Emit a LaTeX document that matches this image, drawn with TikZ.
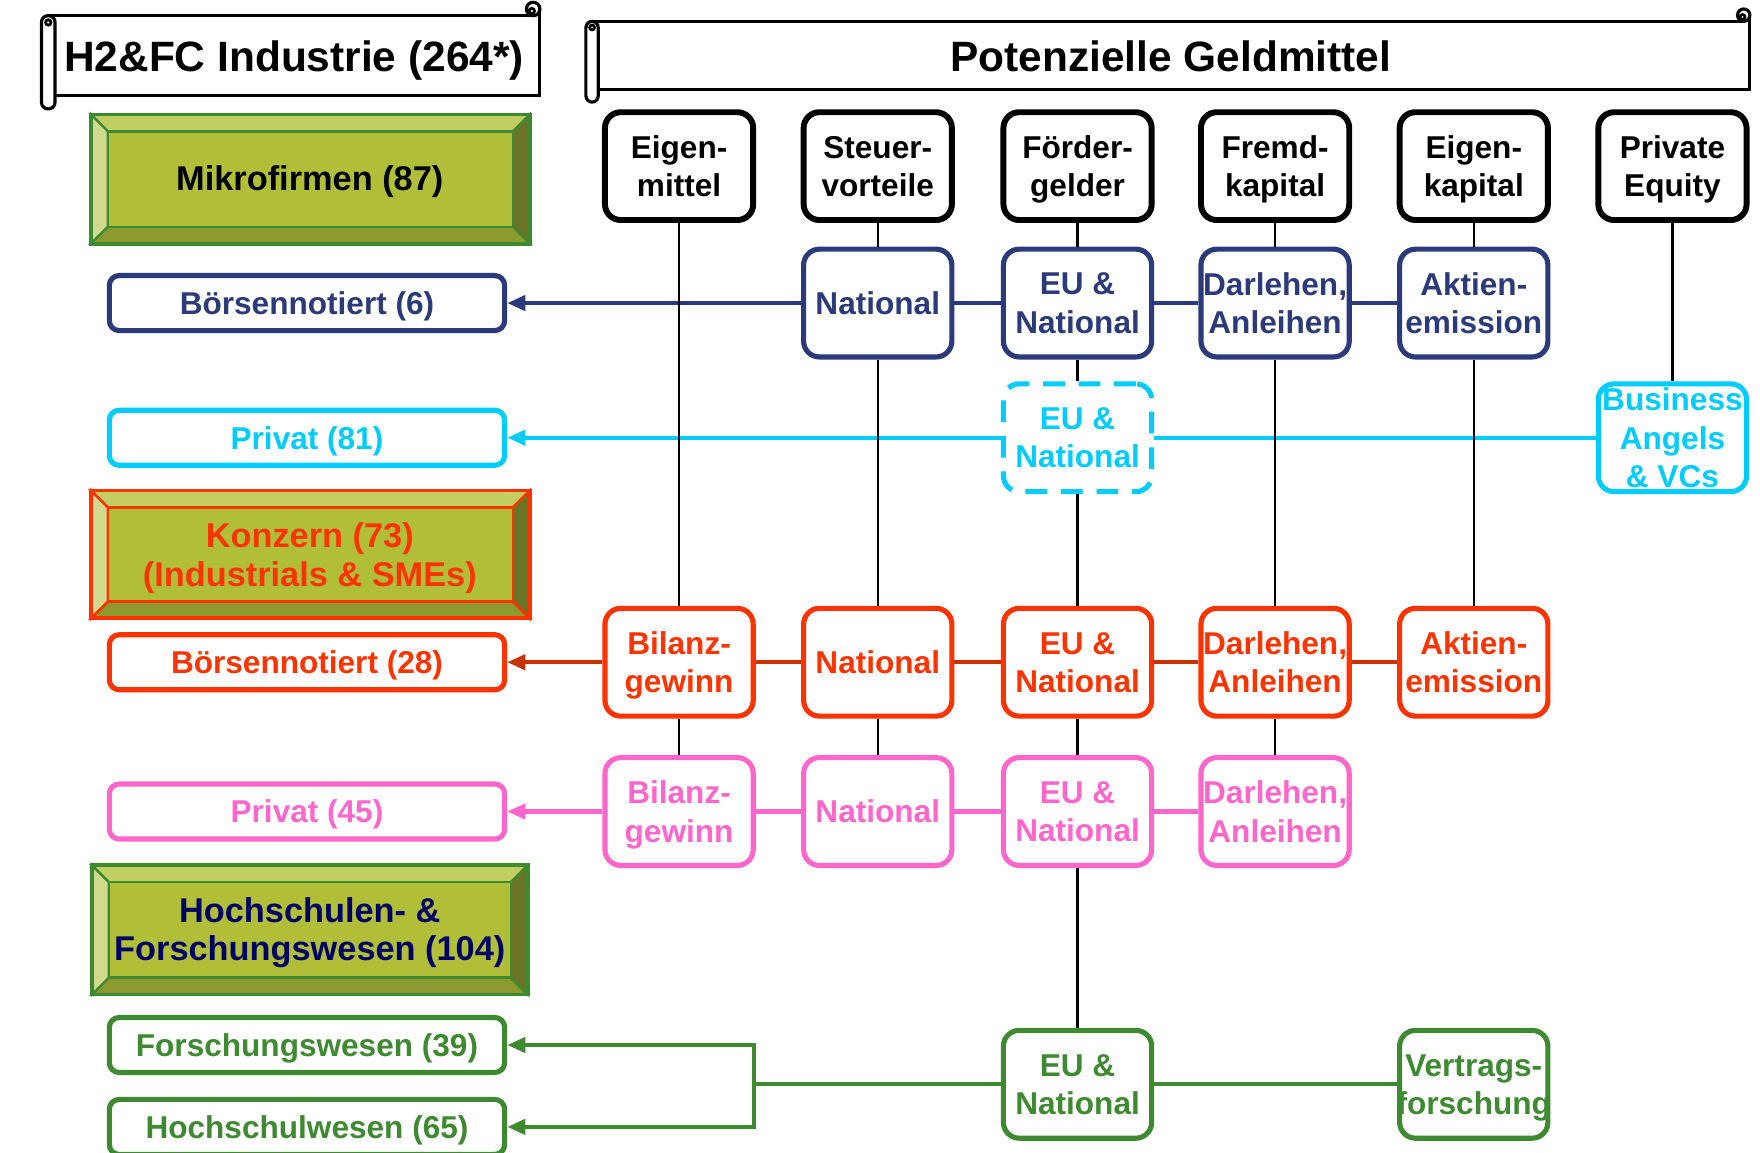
\documentclass[tikz,border=0pt]{standalone}
\usepackage{fontspec}
\setmainfont{Liberation Sans}
\usetikzlibrary{arrows.meta,positioning}

\definecolor{boerse}{HTML}{2B3A7A}
\definecolor{privat}{HTML}{00CCFF}
\definecolor{konzern}{HTML}{FF3300}
\definecolor{konzernline}{HTML}{C83200}
\definecolor{privatpink}{HTML}{FF66CC}
\definecolor{forschung}{HTML}{3D8A30}
\definecolor{deepnavy}{HTML}{000066}
\definecolor{bevelface}{HTML}{B0BE38}
\definecolor{beveltop}{HTML}{C2CE62}
\definecolor{bevelleft}{HTML}{D1DA8C}
\definecolor{bevelright}{HTML}{6A7426}
\definecolor{bevelbottom}{HTML}{8C9A30}

% scroll banner: left, right, top, bottom, roll size
\newcommand{\scrollbanner}[5]{%
  \filldraw[fill=white, line width=0.8pt] (#1+#5/2,-#3) -- (#2-#5/2,-#3) -- (#2-#5/2,-#3+#5/2) -- (#2,-#3+#5/2) -- (#2,-#4) -- (#1+#5/2,-#4) -- cycle;
  \filldraw[fill=white, line width=0.8pt] (#2-#5/2,-#3+#5/2) circle[radius=#5/2];
  \draw[line width=0.7pt] (#2-#5*0.6,-#3+#5*0.35) circle[radius=#5/5];
  \filldraw[fill=white, line width=0.8pt, rounded corners=1.6pt] (#1,-#3) rectangle (#1+#5,-#4-#5);
  \draw[line width=0.7pt] (#1+#5/2,-#3-#5*0.5) circle[radius=#5/5];
}

% bevelled button: left, top, right, bottom, outline colour
\newcommand{\bevelbutton}[5]{%
  \filldraw[fill=beveltop, draw=#5, line width=0.6pt] (#1,-#2) -- (#3,-#2) -- (#3-15,-#2-15) -- (#1+15,-#2-15) -- cycle;
  \filldraw[fill=bevelbottom, draw=#5, line width=0.6pt] (#1,-#4) -- (#3,-#4) -- (#3-15,-#4+15) -- (#1+15,-#4+15) -- cycle;
  \filldraw[fill=bevelleft, draw=#5, line width=0.6pt] (#1,-#2) -- (#1+15,-#2-15) -- (#1+15,-#4+15) -- (#1,-#4) -- cycle;
  \filldraw[fill=bevelright, draw=#5, line width=0.6pt] (#3,-#2) -- (#3-15,-#2-15) -- (#3-15,-#4+15) -- (#3,-#4) -- cycle;
  \filldraw[fill=bevelface, draw=#5, line width=0.6pt] (#1+15,-#2-15) rectangle (#3-15,-#4+15);
  \draw[draw=#5, line width=1pt] (#1,-#2) rectangle (#3,-#4);
}

\begin{document}
\begin{tikzpicture}[x=0.01cm, y=0.01cm,
  head/.style={draw=black, line width=1.5pt, rounded corners=4pt, fill=white,
    minimum width=1.32cm, minimum height=0.96cm, inner sep=0pt, align=center,
    text depth=0pt, font=\fontsize{8}{9.7}\selectfont\bfseries},
  fund/.style={head, draw=#1, text=#1, line width=1.3pt},
  groupbox/.style={draw=#1, text=#1, line width=1.3pt, rounded corners=2.5pt, fill=white,
    minimum width=3.52cm, minimum height=0.49cm, inner sep=0pt, text depth=0pt,
    font=\fontsize{8}{9.7}\selectfont\bfseries},
  buttontext/.style={align=center, text depth=0pt, font=\fontsize{8.7}{9.7}\selectfont\bfseries},
  bannertext/.style={text depth=0pt, font=\fontsize{10.75}{13}\selectfont\bfseries},
  flowline/.style={draw=#1, line width=1.1pt},
  arrowend/.style={-{Triangle[length=4.6pt, width=3.8pt]}},
  spine/.style={draw=black, line width=0.6pt}]

  \useasboundingbox (0,0) rectangle (1568,-1027);

  % banners
  \scrollbanner{37}{481}{14}{85}{12}
  \scrollbanner{522}{1559}{19}{80}{11}
  \node[bannertext] (industrie) at (262,-50) {H2\&FC Industrie (264*)};
  \node[bannertext] (geldmittel) at (1043,-50) {Potenzielle Geldmittel};

  % firm groups
  \bevelbutton{81}{102}{472}{217}{forschung}
  \node[buttontext] (mikro) at (276,-159) {Mikrofirmen (87)};
  \bevelbutton{81}{437}{472}{551}{konzern}
  \node[buttontext, text=konzern] (konz) at (276,-494) {Konzern (73)\\(Industrials \& SMEs)};
  \bevelbutton{82}{771}{470}{886}{forschung}
  \node[buttontext, text=deepnavy] (hochsch) at (276,-828) {Hochschulen- \&\\Forschungswesen (104)};

  \node[groupbox=boerse] (l1) at (273.5,-270) {Börsennotiert (6)};
  \node[groupbox=privat] (l2) at (273.5,-390) {Privat (81)};
  \node[groupbox=konzern] (l3) at (273.5,-590) {Börsennotiert (28)};
  \node[groupbox=privatpink] (l4) at (273.5,-723) {Privat (45)};
  \node[groupbox=forschung] (l5) at (273.5,-931) {Forschungswesen (39)};
  \node[groupbox=forschung] (l6) at (273.5,-1004) {Hochschulwesen (65)};

  % kinds of funding
  \node[head] (h1) at (605,-148) {Eigen-\\mittel};
  \node[head] (h2) at (782,-148) {Steuer-\\vorteile};
  \node[head] (h3) at (960,-148) {Förder-\\gelder};
  \node[head] (h4) at (1136,-148) {Fremd-\\kapital};
  \node[head] (h5) at (1313,-148) {Eigen-\\kapital};
  \node[head] (h6) at (1490,-148) {Private\\Equity};

  \node[fund=boerse] (n2) at (782,-270) {National};
  \node[fund=boerse] (n3) at (960,-270) {EU \&\\National};
  \node[fund=boerse] (n4) at (1136,-270) {Darlehen,\\Anleihen};
  \node[fund=boerse] (n5) at (1313,-270) {Aktien-\\emission};

  \node[fund=privat, dash pattern=on 5.5pt off 3.5pt] (c3) at (960,-390) {EU \&\\National};
  \node[fund=privat] (c6) at (1490,-390) {Business\\Angels\\\& VCs};

  \node[fund=konzern] (r1) at (605,-590) {Bilanz-\\gewinn};
  \node[fund=konzern] (r2) at (782,-590) {National};
  \node[fund=konzern] (r3) at (960,-590) {EU \&\\National};
  \node[fund=konzern] (r4) at (1136,-590) {Darlehen,\\Anleihen};
  \node[fund=konzern] (r5) at (1313,-590) {Aktien-\\emission};

  \node[fund=privatpink] (p1) at (605,-723) {Bilanz-\\gewinn};
  \node[fund=privatpink] (p2) at (782,-723) {National};
  \node[fund=privatpink] (p3) at (960,-723) {EU \&\\National};
  \node[fund=privatpink] (p4) at (1136,-723) {Darlehen,\\Anleihen};

  \node[fund=forschung] (g3) at (960,-966) {EU \&\\National};
  \node[fund=forschung] (g5) at (1313,-966) {Vertrags-\\\makebox[0pt]{forschung}};
  \coordinate (gfork) at (672,-966);

  % flows to the groups
  \draw[flowline=boerse] (n5) -- (n4) -- (n3) -- (n2);
  \draw[flowline=boerse, arrowend] (n2) -- (l1);
  \draw[flowline=privat] (c6) -- (c3);
  \draw[flowline=privat, arrowend] (c3) -- (l2);
  \draw[flowline=konzernline] (r5) -- (r4) -- (r3) -- (r2) -- (r1);
  \draw[flowline=konzernline, arrowend] (r1) -- (l3);
  \draw[flowline=privatpink] (p4) -- (p3) -- (p2) -- (p1);
  \draw[flowline=privatpink, arrowend] (p1) -- (l4);
  \draw[flowline=forschung] (g5) -- (g3) -- (gfork);
  \draw[flowline=forschung, arrowend] (gfork) |- (l5);
  \draw[flowline=forschung, arrowend] (gfork) |- (l6);

  % columns
  \draw[spine] (h1) -- (r1);
  \draw[spine] (r1) -- (p1);
  \draw[spine] (h2) -- (n2);
  \draw[spine] (n2) -- (r2);
  \draw[spine] (r2) -- (p2);
  \draw[spine] (h3) -- (n3);
  \draw[spine] (n3) -- (c3);
  \draw[spine] (c3) -- (r3);
  \draw[spine] (r3) -- (p3);
  \draw[spine] (p3) -- (g3);
  \draw[spine] (h4) -- (n4);
  \draw[spine] (n4) -- (r4);
  \draw[spine] (r4) -- (p4);
  \draw[spine] (h5) -- (n5);
  \draw[spine] (n5) -- (r5);
  \draw[spine] (h6) -- (c6);
\end{tikzpicture}
\end{document}
